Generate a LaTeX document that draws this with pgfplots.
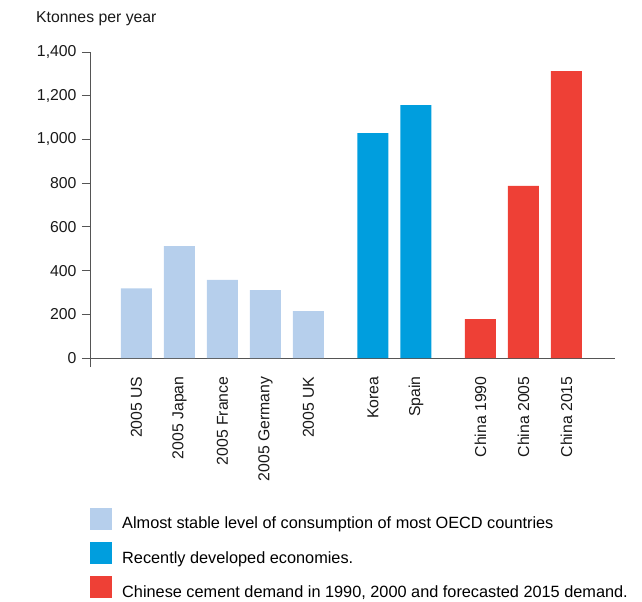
\documentclass[border=0pt]{standalone}
\usepackage{pgfplots}
\pgfplotsset{compat=1.18}
\usepackage{fontspec}
\setmainfont{Liberation Sans}
\definecolor{oecd}{RGB}{182,207,236}
\definecolor{dev}{RGB}{0,158,222}
\definecolor{chn}{RGB}{238,64,54}
\definecolor{axgray}{RGB}{85,85,85}
\newcommand{\fnt}{\fontsize{15.8bp}{19bp}\selectfont}
\newcommand{\lfnt}{\fontsize{16.3bp}{19bp}\selectfont}
\begin{document}
\fnt
\begin{tikzpicture}
\begin{axis}[name=ax, scale only axis, width=525bp, height=315bp,
 xmin=-1.08, xmax=11.13, ymin=-41, ymax=1400,
 axis y line=left, axis x line=middle,
 axis line style={-, axgray, line width=0.8pt},
 ybar, bar width=0.72, bar shift=0pt,
 ytick={0,200,...,1400}, tick align=outside, major tick length=8bp,
 ytick style={axgray, line width=0.8pt},
 xtick={0,1,2,3,4,5.5,6.5,8,9,10},
 xticklabels={2005 US, 2005 Japan, 2005 France, 2005 Germany, 2005 UK, Korea, Spain, China 1990, China 2005, China 2015},
 xtick style={draw=none},
 xticklabel style={rotate=90, anchor=east, xshift=-5bp},
 tick label style={font=\fnt, text=black!90},
 /pgf/number format/assume math mode=true,
 /pgf/number format/1000 sep={,},
 legend image code/.code={\fill[#1] (0bp,-6bp) rectangle (22bp,16bp);},
 legend style={at={(0,-0.4476)}, anchor=north west, draw=none, fill=none, inner sep=0pt,
   row sep=9bp, font=\lfnt, cells={anchor=west},
   /tikz/every odd column/.style={column sep=8bp}},
]
\addplot[fill=oecd, draw=none] coordinates {(0,319) (1,512) (2,357) (3,311) (4,215)};
\addlegendentry{Almost stable level of consumption of most OECD countries}
\addplot[fill=dev, draw=none] coordinates {(5.5,1029) (6.5,1157)};
\addlegendentry{Recently developed economies.}
\addplot[fill=chn, draw=none] coordinates {(8,178) (9,787) (10,1313)};
\addlegendentry{Chinese cement demand in 1990, 2000 and forecasted 2015 demand.}
\end{axis}
\node[anchor=base west, inner sep=0pt, xshift=-54bp, yshift=29.5bp, font=\fnt, text=black!90] at (ax.north west) {Ktonnes per year};
\path ([shift={(-90bp,-232bp)}]ax.south west) rectangle ([shift={(27bp,52bp)}]ax.north east);
\end{tikzpicture}
\end{document}
